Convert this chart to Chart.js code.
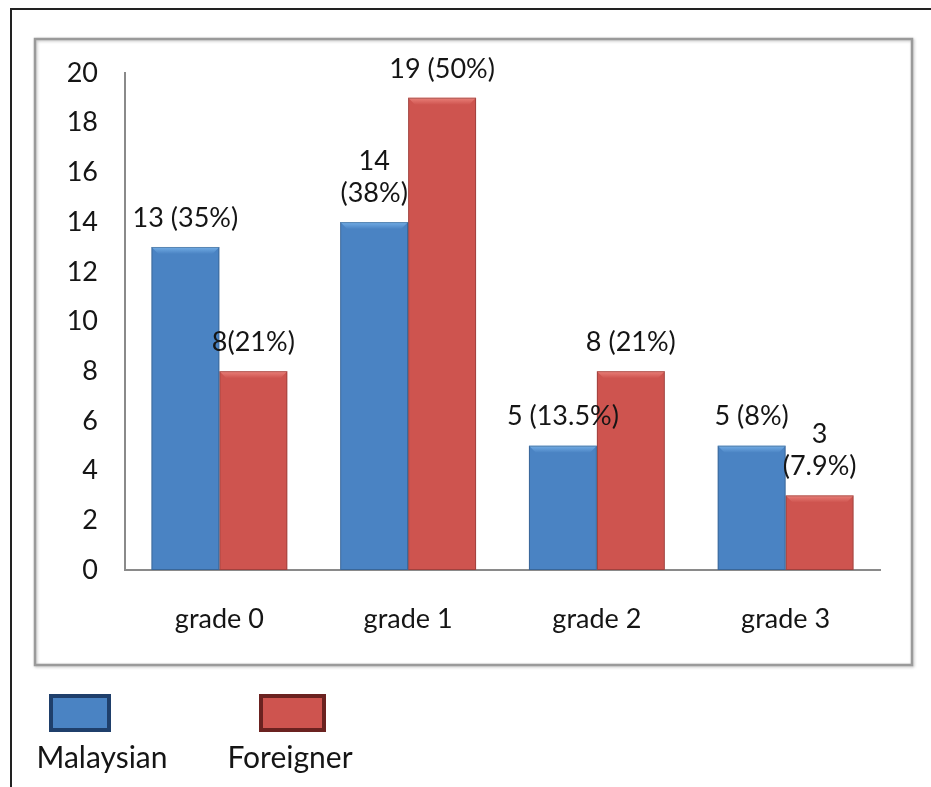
<!DOCTYPE html>
<html>
<head>
<meta charset="utf-8">
<script src="https://cdn.jsdelivr.net/npm/chart.js@4.4.1/dist/chart.umd.min.js"></script>
<style>
  html,body{margin:0;padding:0;background:#fff;}
  #wrap{position:relative;width:931px;height:787px;}
</style>
</head>
<body>
<div id="wrap"><canvas id="c" width="931" height="787"></canvas></div>
<script>
const categories = ['grade 0', 'grade 1', 'grade 2', 'grade 3'];
const malaysian = [13, 14, 5, 5];
const foreigner = [8, 19, 8, 3];
const malaysianLabels = ['13 (35%)', ['14', '(38%)'], '5 (13.5%)', '5 (8%)'];
const foreignerLabels = ['8(21%)', '19 (50%)', '8 (21%)', ['3', '(7.9%)']];
const seriesNames = ['Malaysian', 'Foreigner'];
const yMin = 0, yMax = 20, yStep = 2;

const FONT = 'Lato, "Open Sans", sans-serif';
const TEXT = '#151515';
const styles = [
  {fill: '#4A83C3', dark: '#3567A3', light: '#74AEE6', border: '#1F3F6B'},
  {fill: '#CE544F', dark: '#A7403C', light: '#EA8079', border: '#6B2220'}
];

function barGradient(ctx, i) {
  const el = ctx.element;
  const chart = ctx.chart;
  const s = styles[i];
  if (!el || !isFinite(el.x) || !el.width) return s.fill;
  const l = el.x - el.width / 2, r = el.x + el.width / 2;
  const g = chart.ctx.createLinearGradient(l, 0, r, 0);
  g.addColorStop(0, s.dark);
  g.addColorStop(0.12, s.fill);
  g.addColorStop(0.88, s.fill);
  g.addColorStop(1, s.dark);
  return g;
}

const framePlugin = {
  id: 'frame',
  beforeDraw(chart) {
    const c = chart.ctx;
    c.save();
    c.fillStyle = '#fff';
    c.fillRect(0, 0, chart.width, chart.height);
    c.strokeStyle = '#222';
    c.lineWidth = 2;
    c.beginPath();
    c.moveTo(11, 787); c.lineTo(11, 9); c.lineTo(931, 9);
    c.stroke();
    c.shadowColor = 'rgba(0,0,0,0.25)';
    c.shadowBlur = 3;
    c.shadowOffsetX = 1;
    c.shadowOffsetY = 1;
    c.strokeStyle = '#9a9a9a';
    c.lineWidth = 2.5;
    c.strokeRect(35, 39, 877, 626);
    c.restore();
  },
  afterDatasetsDraw(chart) {
    const c = chart.ctx;
    c.save();
    chart.data.datasets.forEach((ds, di) => {
      const meta = chart.getDatasetMeta(di);
      const s = styles[di];
      meta.data.forEach((bar, i) => {
        const l = bar.x - bar.width / 2, r = bar.x + bar.width / 2, t = bar.y;
        const b = 7;
        const g = c.createLinearGradient(0, t, 0, t + b);
        g.addColorStop(0, s.light);
        g.addColorStop(1, s.fill);
        c.fillStyle = g;
        c.beginPath();
        c.moveTo(l, t); c.lineTo(r, t); c.lineTo(r - b, t + b); c.lineTo(l + b, t + b); c.closePath();
        c.fill();
        c.strokeStyle = 'rgba(0,0,0,0.22)';
        c.lineWidth = 1;
        c.strokeRect(l + 0.5, t + 0.5, bar.width - 1, bar.base - t - 1);
        const lbl = ds.valueLabels[i];
        const lines = Array.isArray(lbl) ? lbl : [lbl];
        c.fillStyle = TEXT;
        c.font = '27px ' + FONT;
        c.textAlign = 'center';
        c.textBaseline = 'middle';
        const lh = 32;
        for (let k = 0; k < lines.length; k++) {
          const yy = t - 29 - (lines.length - 1 - k) * lh;
          c.fillText(lines[k], bar.x, yy);
        }
      });
    });
    c.restore();
  },
  afterDraw(chart) {
    const c = chart.ctx;
    c.save();
    const pos = [{x: 51, w: 58, tx: 102}, {x: 261, w: 63, tx: 290}];
    chart.data.datasets.forEach((ds, di) => {
      const s = styles[di], p = pos[di];
      c.fillStyle = s.fill;
      c.fillRect(p.x, 696, p.w, 34);
      c.strokeStyle = s.border;
      c.lineWidth = 4;
      c.strokeRect(p.x, 696, p.w, 34);
      c.fillStyle = TEXT;
      c.font = '30px ' + FONT;
      c.textAlign = 'center';
      c.textBaseline = 'middle';
      c.fillText(ds.label, p.tx, 758);
    });
    c.restore();
  }
};

new Chart(document.getElementById('c'), {
  type: 'bar',
  data: {
    labels: categories,
    datasets: [
      {label: seriesNames[0], data: malaysian, valueLabels: malaysianLabels,
       backgroundColor: (ctx) => barGradient(ctx, 0)},
      {label: seriesNames[1], data: foreigner, valueLabels: foreignerLabels,
       backgroundColor: (ctx) => barGradient(ctx, 1)}
    ]
  },
  options: {
    responsive: false,
    animation: false,
    devicePixelRatio: 1,
    layout: {padding: {left: 0, right: 51, top: 73, bottom: 0}},
    plugins: {legend: {display: false}, tooltip: {enabled: false}},
    datasets: {bar: {categoryPercentage: 0.72, barPercentage: 1.0}},
    scales: {
      x: {
        grid: {display: false, drawTicks: false},
        border: {display: true, color: '#8a8a8a', width: 2},
        ticks: {color: TEXT, font: {family: FONT, size: 27}, padding: 33},
        afterFit(s) { s.height = 217; }
      },
      y: {
        min: yMin, max: yMax,
        grid: {display: false, drawTicks: false},
        border: {display: true, color: '#8a8a8a', width: 2},
        ticks: {stepSize: yStep, color: TEXT, font: {family: FONT, size: 27}, padding: 27},
        afterFit(s) { s.width = 125; }
      }
    }
  },
  plugins: [framePlugin]
});
</script>
</body>
</html>
